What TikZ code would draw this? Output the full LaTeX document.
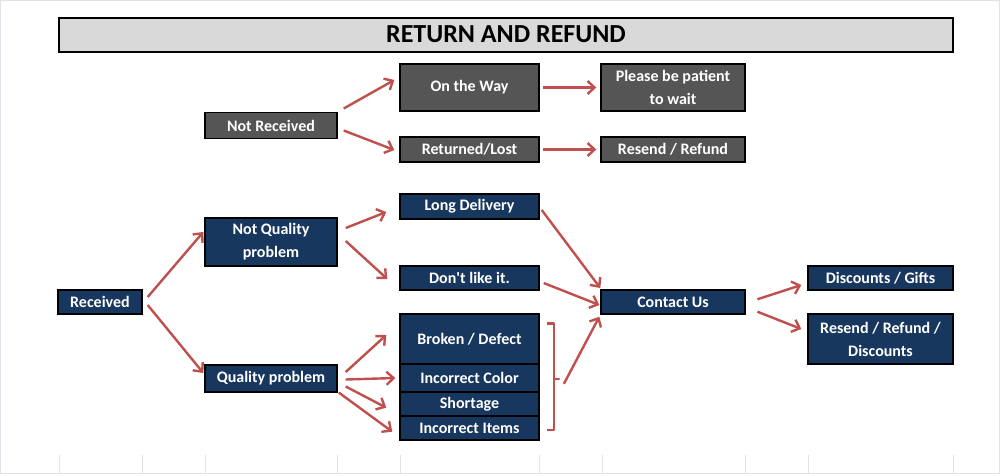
\documentclass[tikz,border=0pt]{standalone}
\usepackage{fontspec}
\setmainfont{Carlito}
\usetikzlibrary{arrows.meta,calc}
\definecolor{navy}{HTML}{17375E}
\definecolor{dgray}{HTML}{555555}
\definecolor{tgray}{HTML}{D9D9D9}
\definecolor{arrred}{HTML}{C0504D}
\definecolor{gridc}{HTML}{E2E3EA}
\tikzset{
  bx/.style={draw=black, line width=1.4pt, text=white, inner sep=0pt, align=center,
    font=\fontsize{16}{23}\selectfont\bfseries},
  nb/.style={bx, fill=navy},
  gb/.style={bx, fill=dgray},
  arr/.style={draw=arrred, line width=2.4pt, -{Straight Barb[length=7pt,width=13pt]}},
  brk/.style={draw=arrred, line width=2.4pt, line join=round},
  gridl/.style={draw=gridc, line width=1pt}
}
\begin{document}
\begin{tikzpicture}[x=1pt,y=-1pt]
\useasboundingbox (0,0) rectangle (1000,474);
\fill[white] (0,0) rectangle (1000,474);
\draw[gridl] (0.5,0.5) rectangle (999.5,473.5);
\foreach \gx in {59,142,205,337,400,539,602,745,808,953}
  \draw[gridl] (\gx,455) -- (\gx,474);

\node[draw=black, line width=2pt, fill=tgray, minimum width=894pt, minimum height=34pt,
  inner sep=0pt, font=\fontsize{26}{28}\selectfont\bfseries] (title) at (506,34.5) {RETURN AND REFUND};

\node[gb, minimum width=132pt, minimum height=26pt] (nr) at (271,125.5) {Not Received};
\node[gb, minimum width=139pt, minimum height=47pt] (otw) at (469.5,87.5) {On the Way};
\node[gb, minimum width=144pt, minimum height=47pt] (pbp) at (673,87.5) {Please be patient\\to wait};
\node[gb, minimum width=139pt, minimum height=25pt] (rl) at (469.5,149.5) {Returned/Lost};
\node[gb, minimum width=144pt, minimum height=25pt] (rr) at (673,149.5) {Resend / Refund};

\node[nb, minimum width=84pt, minimum height=24pt] (rec) at (100,302) {Received};
\node[nb, minimum width=132pt, minimum height=48pt] (nqp) at (271,242) {Not Quality\\problem};
\node[nb, minimum width=132pt, minimum height=27pt] (qp) at (271,378.5) {Quality problem};
\node[nb, minimum width=139pt, minimum height=25pt] (ld) at (469.5,206.5) {Long Delivery};
\node[nb, minimum width=139pt, minimum height=24pt] (dl) at (469.5,278) {Don\textquotesingle t like it.};
\node[nb, minimum width=139pt, minimum height=50pt] (bd) at (469.5,339) {Broken / Defect};
\node[nb, minimum width=139pt, minimum height=28pt] (ic) at (469.5,378) {Incorrect Color};
\node[nb, minimum width=139pt, minimum height=24pt] (sh) at (469.5,404) {Shortage};
\node[nb, minimum width=139pt, minimum height=24pt] (ii) at (469.5,428) {Incorrect Items};
\node[nb, minimum width=144pt, minimum height=24pt] (cu) at (673,302) {Contact Us};
\node[nb, minimum width=145pt, minimum height=24pt] (dg) at (880.5,278) {Discounts / Gifts};
\node[nb, minimum width=145pt, minimum height=50pt] (rrd) at (880.5,339) {Resend / Refund /\\Discounts};

% not received branch
\draw[arr] ([shift={(6,-17)}]nr.east) -- ([shift={(-5,-7.5)}]otw.west);
\draw[arr] ([shift={(6,5)}]nr.east) -- ([shift={(-5,0.5)}]rl.west);
\draw[arr] ([shift={(3,0)}]otw.east) -- ([shift={(-4,0)}]pbp.west);
\draw[arr] ([shift={(3,0)}]rl.east) -- ([shift={(-4,0)}]rr.west);

% received branch
\draw[arr] ([shift={(5,-5)}]rec.east) -- ([shift={(-1,-10)}]nqp.west);
\draw[arr] ([shift={(5,3)}]rec.east) -- ([shift={(-1,-5.5)}]qp.west);
\draw[arr] ([shift={(8,-14)}]nqp.east) -- ([shift={(-13,5.5)}]ld.west);
\draw[arr] ([shift={(8,-1)}]nqp.east) -- ([shift={(-12,1)}]dl.west);
\draw[arr] ([shift={(8,-6.5)}]qp.east) -- ([shift={(-13,-4)}]bd.west);
\draw[arr] ([shift={(8,1)}]qp.east) -- ([shift={(-4,0)}]ic.west);
\draw[arr] ([shift={(8,8)}]qp.east) -- ([shift={(-13,3.7)}]sh.west);
\draw[arr] ([shift={(1,14)}]qp.east) -- ([shift={(-7,3.7)}]ii.west);

\draw[arr] ([shift={(2,3.5)}]ld.east) -- ([shift={(0,-14)}]cu.west);
\draw[arr] ([shift={(4,5)}]dl.east) -- ([shift={(-1,3)}]cu.west);

% bracket
\coordinate (bt) at ([shift={(7.7,10)}]bd.north east);
\coordinate (bb) at ([shift={(7.7,-10.7)}]ii.south east);
\coordinate (bm) at ($(bt)!0.52!(bb)$);
\draw[brk] (bt) -- ++(6.6,0) |- ([xshift=6.6pt]bm) -- ++(5,0) -- ([xshift=6.6pt]bm) |- (bb);
\draw[arr] ([shift={(16.5,5)}]bm) -- ([shift={(-1,14.7)}]cu.west);

\draw[arr] ([shift={(11.7,-2.7)}]cu.east) -- ([shift={(-6,7)}]dg.west);
\draw[arr] ([shift={(11.7,9.7)}]cu.east) -- ([shift={(-6,-10)}]rrd.west);
\end{tikzpicture}
\end{document}
